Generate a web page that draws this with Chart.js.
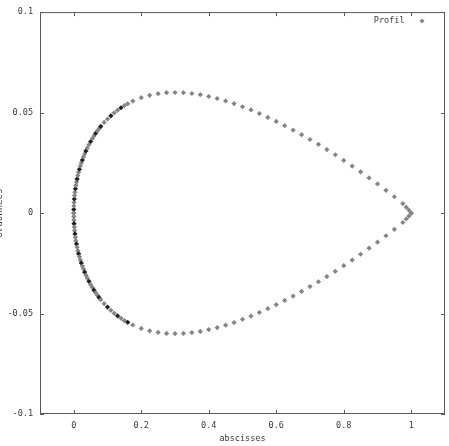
<!DOCTYPE html>
<html>
<head>
<meta charset="utf-8">
<script src="https://cdn.jsdelivr.net/npm/chart.js@4.4.1/dist/chart.umd.min.js"></script>
<style>
  html, body { margin: 0; padding: 0; background: #fff; }
  #wrap { position: relative; width: 449px; height: 446px; overflow: hidden; }
  #c { position: absolute; left: -6px; top: 0; }
</style>
</head>
<body>
<div id="wrap"><canvas id="c" width="455" height="446"></canvas></div>
<script>
// profil symétrique : abscisses + ordonnées extrados / intrados
const profilX = [
  0, 0.0001, 0.0004, 0.0009, 0.0016, 0.0025, 0.0036, 0.0049, 0.0064, 0.0081,
  0.01, 0.0121, 0.0144, 0.0169, 0.0196, 0.0225, 0.0256, 0.0289, 0.0324, 0.0361,
  0.04, 0.045, 0.05, 0.055, 0.06, 0.065, 0.07, 0.075, 0.08, 0.09,
  0.1, 0.11, 0.12, 0.13, 0.14, 0.15, 0.16, 0.175,
  0.2, 0.225, 0.25, 0.275, 0.3, 0.325, 0.35, 0.375, 0.4, 0.425, 0.45, 0.475,
  0.5, 0.525, 0.55, 0.575, 0.6, 0.625, 0.65, 0.675, 0.7, 0.725, 0.75, 0.775,
  0.8, 0.825, 0.85, 0.875, 0.9, 0.925, 0.95, 0.975, 0.985, 0.993, 1.0
];
const profilUpperY = [
  0, 0.0018, 0.0035, 0.0053, 0.0070, 0.0087, 0.0104, 0.0121, 0.0138, 0.0154,
  0.0170, 0.0187, 0.0203, 0.0218, 0.0234, 0.0249, 0.0264, 0.0279, 0.0294, 0.0309,
  0.0323, 0.0340, 0.0356, 0.0370, 0.0384, 0.0397, 0.0409, 0.0420, 0.0431, 0.0451,
  0.0468, 0.0484, 0.0499, 0.0512, 0.0524, 0.0535, 0.0544, 0.0557,
  0.0574, 0.0586, 0.0594, 0.0599, 0.0600, 0.0599, 0.0595, 0.0589, 0.0580, 0.0570, 0.0558, 0.0545,
  0.0529, 0.0513, 0.0495, 0.0476, 0.0456, 0.0435, 0.0413, 0.0390, 0.0366, 0.0342, 0.0316, 0.0290,
  0.0262, 0.0234, 0.0205, 0.0175, 0.0145, 0.0113, 0.0081, 0.0047, 0.0029, 0.0015, 0
];
const profilLowerY = [
  0, -0.0018, -0.0035, -0.0053, -0.0070, -0.0087, -0.0104, -0.0121, -0.0138, -0.0154,
  -0.0170, -0.0187, -0.0203, -0.0218, -0.0234, -0.0249, -0.0264, -0.0279, -0.0294, -0.0309,
  -0.0323, -0.0340, -0.0356, -0.0370, -0.0384, -0.0397, -0.0409, -0.0420, -0.0431, -0.0451,
  -0.0468, -0.0484, -0.0499, -0.0512, -0.0524, -0.0535, -0.0544, -0.0557,
  -0.0574, -0.0586, -0.0594, -0.0599, -0.0600, -0.0599, -0.0595, -0.0589, -0.0580, -0.0570, -0.0558, -0.0545,
  -0.0529, -0.0513, -0.0495, -0.0476, -0.0456, -0.0435, -0.0413, -0.0390, -0.0366, -0.0342, -0.0316, -0.0290,
  -0.0262, -0.0234, -0.0205, -0.0175, -0.0145, -0.0113, -0.0081, -0.0047, -0.0029, -0.0015, 0
];
const xTicks = [0, 0.2, 0.4, 0.6, 0.8, 1];
const yTicks = [-0.1, -0.05, 0, 0.05, 0.1];

const FONT = { family: "'DejaVu Sans Mono', monospace", size: 8.5 };
const TEXT = '#3a3a3a';
const FRAME = '#5a5a5a';
const GREY = '#858585';

const points = [];
profilX.forEach((x, i) => points.push({ x: x, y: profilUpperY[i] }));
profilX.forEach((x, i) => points.push({ x: x, y: profilLowerY[i] }));

// cadre + petites graduations vers l'intérieur (style gnuplot)
const gnuplotFrame = {
  id: 'gnuplotFrame',
  afterLayout(chart) {
    // légende en haut à droite, à l'intérieur du cadre
    const lg = chart.legend;
    if (!lg) return;
    const pad = lg.options.labels.padding;
    const markerRight = 431;
    lg.left = markerRight + pad - lg.width;
    lg.right = lg.left + lg.width;
    lg.top = 16.75 - pad;
    lg.bottom = lg.top + lg.height;
  },
  beforeDatasetsDraw(chart) {
    const { ctx, chartArea: a, scales } = chart;
    ctx.save();
    ctx.strokeStyle = FRAME;
    ctx.lineWidth = 1;
    ctx.strokeRect(a.left + 0.5, a.top + 0.5, a.right - a.left - 1, a.bottom - a.top - 1);
    const len = 4;
    ctx.beginPath();
    xTicks.forEach(v => {
      const px = Math.round(scales.x.getPixelForValue(v)) + 0.5;
      ctx.moveTo(px, a.bottom); ctx.lineTo(px, a.bottom - len);
      ctx.moveTo(px, a.top); ctx.lineTo(px, a.top + len);
    });
    yTicks.forEach(v => {
      const py = Math.round(scales.y.getPixelForValue(v)) + 0.5;
      ctx.moveTo(a.left, py); ctx.lineTo(a.left + len, py);
      ctx.moveTo(a.right, py); ctx.lineTo(a.right - len, py);
    });
    ctx.stroke();
    ctx.restore();
  }
};

new Chart(document.getElementById('c'), {
  type: 'scatter',
  data: {
    datasets: [{
      label: 'Profil',
      data: points,
      pointStyle: 'rectRot',
      pointRadius: 2.6,
      pointBorderWidth: 0,
      pointBackgroundColor: ctx => {
        const p = ctx.raw;
        if (p && p.x > 0 && p.x < 0.17 && ctx.dataIndex % 3 === 1) return '#1e1e1e';
        return GREY;
      },
      borderColor: GREY,
      showLine: false
    }]
  },
  options: {
    responsive: false,
    animation: false,
    layout: { padding: { top: 12, right: 4, bottom: 0, left: 0 } },
    plugins: {
      tooltip: { enabled: false },
      legend: {
        position: 'chartArea',
        align: 'start',
        rtl: true,
        textDirection: 'ltr',
        labels: {
          usePointStyle: true,
          boxHeight: 3.6,
          boxWidth: 6,
          color: TEXT,
          font: FONT,
          padding: 6,
          generateLabels: chart => Chart.defaults.plugins.legend.labels.generateLabels(chart).map(l => {
            l.text = l.text + '\u00A0\u00A0';
            l.fillStyle = GREY;
            l.strokeStyle = GREY;
            l.lineWidth = 0;
            return l;
          })
        }
      }
    },
    scales: {
      x: {
        type: 'linear',
        min: -0.1,
        max: 1.1,
        afterBuildTicks: s => { s.ticks = xTicks.map(v => ({ value: v })); },
        afterFit: s => { s.height = 32; },
        grid: { display: false, drawTicks: false },
        border: { display: false },
        ticks: { color: TEXT, font: FONT, padding: 7, maxRotation: 0, callback: v => String(v) },
        title: { display: true, text: 'abscisses', color: TEXT, font: { ...FONT, lineHeight: '14px' }, padding: 0 }
      },
      y: {
        type: 'linear',
        min: -0.1,
        max: 0.1,
        afterBuildTicks: s => { s.ticks = yTicks.map(v => ({ value: v })); },
        afterFit: s => { s.width = 46; },
        grid: { display: false, drawTicks: false },
        border: { display: false },
        ticks: { color: TEXT, font: FONT, padding: 7, callback: v => String(v) },
        title: { display: true, text: 'ordonnees', color: TEXT, font: { ...FONT, size: 9 }, padding: 0 }
      }
    }
  },
  plugins: [gnuplotFrame]
});
</script>
</body>
</html>
